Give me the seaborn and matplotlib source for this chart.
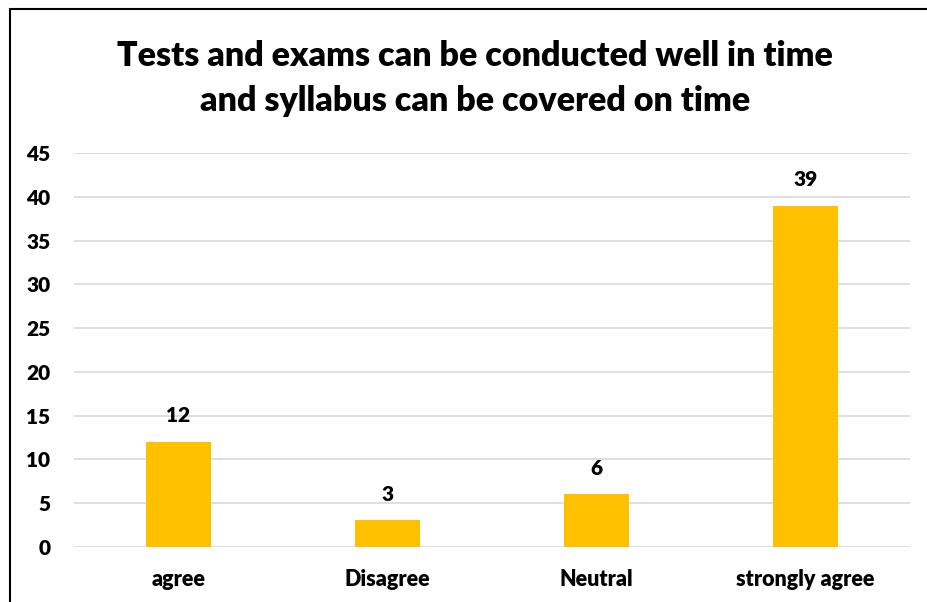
import matplotlib
matplotlib.use("Agg")
import matplotlib.pyplot as plt
import seaborn as sns
import pandas as pd
from matplotlib.lines import Line2D

categories = ["agree", "Disagree", "Neutral", "strongly agree"]
values = [12, 3, 6, 39]
yticks = [0, 5, 10, 15, 20, 25, 30, 35, 40, 45]
title = "Tests and exams can be conducted well in time\nand syllabus can be covered on time"

sns.set_theme(style="white")
plt.rcParams['font.family'] = ['Lato', 'DejaVu Sans']
plt.rcParams['text.color'] = 'black'
plt.rcParams['xtick.color'] = 'black'
plt.rcParams['ytick.color'] = 'black'

df = pd.DataFrame({"category": categories, "value": values})

fig = plt.figure(figsize=(9.28, 6.02), dpi=100)
ax = fig.add_axes([74/928, 1-546.7/602, 836/928, (546.7-153.3)/602])

sns.barplot(data=df, x="category", y="value", color="#FFC000", width=0.31,
            saturation=1, ax=ax, zorder=3, linewidth=0)

ax.set_ylim(0, 45)
ax.set_xlim(-0.5, 3.5)
ax.set_yticks(yticks)
ax.set_yticklabels([str(t) for t in yticks], fontsize=15, fontweight="heavy", color="black")
ax.set_xticks(range(len(categories)))
ax.set_xticklabels(categories, fontsize=15.5, fontweight="heavy", color="black")
ax.tick_params(axis="y", length=0, pad=17)
ax.tick_params(axis="x", length=0, pad=16)
ax.set_xlabel("")
ax.set_ylabel("")
ax.grid(axis="y", color="#d9d9d9", linewidth=1.2, zorder=0)
ax.set_axisbelow(True)
for s in ax.spines.values():
    s.set_visible(False)

for i, v in enumerate(values):
    ax.annotate(str(v), (i, v), xytext=(0, 12), textcoords="offset points",
                ha="center", va="bottom", fontsize=15, fontweight="heavy", color="black")

fig.text(475/928, 1-78.5/602, title, ha="center", va="center", fontsize=24.5,
         fontweight="heavy", linespacing=1.52, color="black")

# chart border (left and top visible)
fig.add_artist(Line2D([10.5/928, 10.5/928], [0, 1-8.5/602], transform=fig.transFigure,
                      color="black", linewidth=1.5))
fig.add_artist(Line2D([10.5/928, 1], [1-8.5/602, 1-8.5/602], transform=fig.transFigure,
                      color="black", linewidth=1.5))

fig.savefig("out.png", dpi=100)
